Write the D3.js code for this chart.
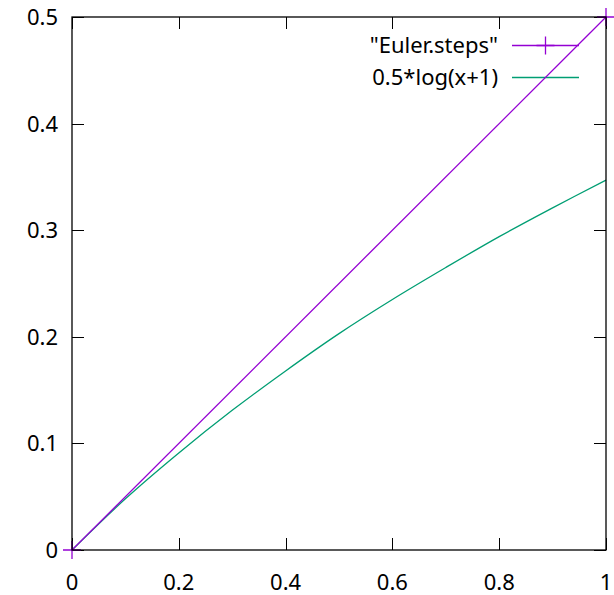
<!DOCTYPE html>
<html>
<head>
<meta charset="utf-8">
<script src="https://cdn.jsdelivr.net/npm/d3@7"></script>
<style>
  body { margin: 0; background: #fff; }
  text { font-family: "Noto Sans", sans-serif; font-size: 22px; fill: #000; }
</style>
</head>
<body>
<script>
// data
var eulerX = [0, 1];
var eulerY = [0, 0.5];
var logX = [0, 0.1, 0.2, 0.3, 0.4, 0.5, 0.6, 0.7, 0.8, 0.9, 1.0];
var logY = [0, 0.048, 0.091, 0.131, 0.168, 0.203, 0.235, 0.265, 0.294, 0.321, 0.347];
var xTicks = [0, 0.2, 0.4, 0.6, 0.8, 1];
var yTicks = [0, 0.1, 0.2, 0.3, 0.4, 0.5];
var seriesNames = ['"Euler.steps"', '0.5*log(x+1)'];
var seriesColors = ["#9400d3", "#009e73"];

var width = 614, height = 595;
var plotL = 72, plotR = 606, plotT = 17, plotB = 550;
var tickLen = 12;

var svg = d3.select("body").append("svg").attr("width", width).attr("height", height);

var x = d3.scaleLinear().domain([0, 1]).range([plotL, plotR]);
var y = d3.scaleLinear().domain([0, 0.5]).range([plotB, plotT]);

var fmt = function(d) { return d === 0 ? "0" : d === 1 ? "1" : d3.format(".1f")(d); };

// ticks (inside, on all four sides)
var ticks = svg.append("g").attr("stroke", "#000").attr("stroke-width", 1);
xTicks.forEach(function(t) {
  var px = Math.round(x(t)) + 0.5;
  ticks.append("line").attr("x1", px).attr("x2", px).attr("y1", plotB).attr("y2", plotB - tickLen);
  ticks.append("line").attr("x1", px).attr("x2", px).attr("y1", plotT).attr("y2", plotT + tickLen);
});
yTicks.forEach(function(t) {
  var py = Math.round(y(t)) + 0.5;
  ticks.append("line").attr("x1", plotL).attr("x2", plotL + tickLen).attr("y1", py).attr("y2", py);
  ticks.append("line").attr("x1", plotR).attr("x2", plotR - tickLen).attr("y1", py).attr("y2", py);
});

// tick labels
svg.append("g").selectAll("text").data(xTicks).enter().append("text")
  .attr("x", function(d) { return x(d); })
  .attr("y", 590)
  .attr("text-anchor", "middle")
  .text(fmt);
svg.append("g").selectAll("text").data(yTicks).enter().append("text")
  .attr("x", 58)
  .attr("y", function(d) { return y(d) + 8; })
  .attr("text-anchor", "end")
  .text(fmt);

// legend
var keyRows = [45, 77];
var keyX1 = 512, keyX2 = 579;
seriesNames.forEach(function(name, i) {
  svg.append("text")
    .attr("x", 498).attr("y", keyRows[i] + 8)
    .attr("text-anchor", "end")
    .text(name);
  svg.append("line")
    .attr("x1", keyX1).attr("x2", keyX2)
    .attr("y1", keyRows[i] + 0.5).attr("y2", keyRows[i] + 0.5)
    .attr("stroke", seriesColors[i]).attr("stroke-width", 1.3);
});

function plus(g, cx, cy, color) {
  var s = 9;
  g.append("path")
    .attr("d", "M" + (cx - s) + "," + cy + "H" + (cx + s) + "M" + cx + "," + (cy - s) + "V" + (cy + s))
    .attr("stroke", color).attr("stroke-width", 1.3).attr("fill", "none");
}
plus(svg, (keyX1 + keyX2) / 2, keyRows[0] + 0.5, seriesColors[0]);

// curves
var line = d3.line().x(function(d) { return x(d[0]); }).y(function(d) { return y(d[1]); });
var eulerData = eulerX.map(function(v, i) { return [v, eulerY[i]]; });
var logData = logX.map(function(v, i) { return [v, logY[i]]; });

svg.append("path").datum(logData)
  .attr("d", line.curve(d3.curveCatmullRom))
  .attr("fill", "none").attr("stroke", seriesColors[1]).attr("stroke-width", 1.3);

svg.append("path").datum(eulerData)
  .attr("d", d3.line().x(function(d) { return x(d[0]); }).y(function(d) { return y(d[1]); }))
  .attr("fill", "none").attr("stroke", seriesColors[0]).attr("stroke-width", 1.3);

eulerData.forEach(function(d) { plus(svg, x(d[0]), y(d[1]), seriesColors[0]); });

// border
svg.append("rect")
  .attr("x", plotL).attr("y", plotT)
  .attr("width", plotR - plotL).attr("height", plotB - plotT)
  .attr("fill", "none").attr("stroke", "#000").attr("stroke-width", 1.3);
</script>
</body>
</html>
